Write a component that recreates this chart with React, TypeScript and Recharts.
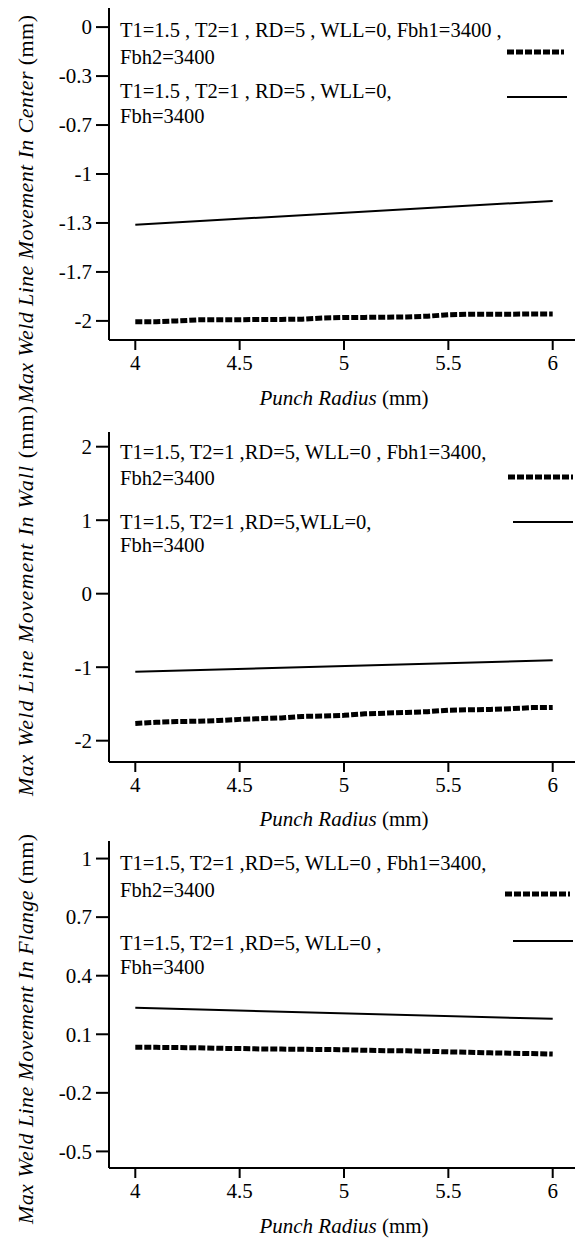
import React from 'react';
import { LineChart, Line, XAxis, YAxis, Legend, Label } from 'recharts';

// punch radius (mm) sampled along the dotted series
const radius = [4, 4.1, 4.2, 4.3, 4.4, 4.5, 4.6, 4.7, 4.8, 4.9, 5, 5.1, 5.2, 5.3, 5.4, 5.5, 5.6, 5.7, 5.8, 5.9, 6];
const radiusEnds = [4, 6];

// center
const centerDual = [-2.005, -2.005, -2.0, -1.993, -1.992, -1.992, -1.99, -1.99, -1.988, -1.98, -1.977, -1.976, -1.975, -1.973, -1.968, -1.958, -1.955, -1.954, -1.954, -1.953, -1.953];
const centerSingle = [-1.345, -1.183];
// wall
const wallDual = [-1.765, -1.75, -1.74, -1.735, -1.725, -1.71, -1.7, -1.69, -1.67, -1.665, -1.655, -1.635, -1.625, -1.615, -1.605, -1.585, -1.58, -1.575, -1.565, -1.55, -1.548];
const wallSingle = [-1.063, -0.905];
// flange
const flangeDual = [0.033, 0.033, 0.032, 0.031, 0.028, 0.027, 0.025, 0.024, 0.023, 0.022, 0.021, 0.018, 0.016, 0.015, 0.013, 0.01, 0.008, 0.005, 0.003, 0.001, -0.001];
const flangeSingle = [0.236, 0.179];

const xTicks = [4, 4.5, 5, 5.5, 6];
const centerTicks = [0, -1 / 3, -2 / 3, -1, -4 / 3, -5 / 3, -2];
const wallTicks = [2, 1, 0, -1, -2];
const flangeTicks = [1, 0.7, 0.4, 0.1, -0.2, -0.5];

const centerLegend = ['T1=1.5 , T2=1 , RD=5 , WLL=0, Fbh1=3400 ,', 'Fbh2=3400', 'T1=1.5 , T2=1 , RD=5 , WLL=0,', 'Fbh=3400'];
const wallLegend = ['T1=1.5, T2=1 ,RD=5, WLL=0 , Fbh1=3400,', 'Fbh2=3400', 'T1=1.5, T2=1 ,RD=5,WLL=0,', 'Fbh=3400'];
const flangeLegend = ['T1=1.5, T2=1 ,RD=5, WLL=0 , Fbh1=3400,', 'Fbh2=3400', 'T1=1.5, T2=1 ,RD=5, WLL=0 ,', 'Fbh=3400'];

const FONT = "'Liberation Serif', serif";
const BLACK = '#000';
const dualStyle = { strokeWidth: 5, dash: '7 2' };
const singleStyle = { strokeWidth: 2, dash: undefined as string | undefined };

const toPoints = (xs: number[], ys: number[]) => xs.map((x, i) => ({ x, y: ys[i] }));

type Swatch = { y: number; x1: number; x2: number };

interface PanelProps {
  top: number;
  height: number;
  plotTop: number;
  plotBottom: number;
  yDomain: [number, number];
  yTicks: number[];
  dual: number[];
  single: number[];
  legend: string[];
  rows: number[];
  dualSwatch: Swatch;
  singleSwatch: Swatch;
  title: string;
  titleCy: number;
  titleLen: number;
  xTitleY: number;
}

function SerifTick(props: any) {
  const { x, y, payload, textAnchor, verticalAnchor, tickFormatter } = props;
  const label = tickFormatter ? tickFormatter(payload.value) : String(payload.value);
  const dy = verticalAnchor === 'start' ? '0.75em' : '0.35em';
  return (
    <text x={x} y={y} dy={dy} textAnchor={textAnchor} fill={BLACK} fontFamily={FONT} fontSize={21}>
      {label}
    </text>
  );
}

function Panel(p: PanelProps) {
  const xAxisHeight = p.height - (p.plotBottom - p.top);
  const fmt = (v: number) => String(Number(v.toFixed(1)));

  const renderLegend = () => (
    <div style={{ position: 'relative', width: 0, height: 0 }}>
      {p.legend.map((t, i) => (
        <div key={i} style={{ position: 'absolute', left: 120, top: p.rows[i] - p.top - 12, fontFamily: FONT, fontSize: 20.5, lineHeight: '24px', whiteSpace: 'nowrap', color: BLACK }}>{t}</div>
      ))}
      {[{ s: p.dualSwatch, st: dualStyle }, { s: p.singleSwatch, st: singleStyle }].map(({ s, st }, i) => (
        <svg key={'sw' + i} width={s.x2 - s.x1} height={8} style={{ position: 'absolute', left: s.x1, top: s.y - p.top - 4 }}>
          <line x1={0} y1={4} x2={s.x2 - s.x1} y2={4} stroke={BLACK} strokeWidth={st.strokeWidth} strokeDasharray={st.dash} />
        </svg>
      ))}
    </div>
  );

  return (
    <div style={{ position: 'absolute', left: 0, top: p.top }}>
      <LineChart width={590} height={p.height} margin={{ top: p.plotTop - p.top, right: 11, bottom: 0, left: 0 }}>
        <XAxis
          type="number"
          dataKey="x"
          domain={[3.874, 6.126]}
          ticks={xTicks}
          allowDataOverflow
          height={xAxisHeight}
          tickSize={10}
          tickMargin={4}
          axisLine={{ stroke: BLACK, strokeWidth: 2 }}
          tickLine={{ stroke: BLACK, strokeWidth: 2 }}
          tick={<SerifTick />}
          label={
            <Label
              content={(props: any) => {
                const vb = props.viewBox;
                return (
                  <text x={vb.x + vb.width / 2} y={p.xTitleY - p.top} textAnchor="middle" dominantBaseline="central" fontFamily={FONT} fontSize={21} fill={BLACK}>
                    <tspan fontStyle="italic">Punch Radius</tspan>
                    <tspan> (mm)</tspan>
                  </text>
                );
              }}
            />
          }
        />
        <XAxis xAxisId="top" orientation="top" type="number" domain={[3.874, 6.126]} height={0} tick={false} tickLine={false} axisLine={{ stroke: BLACK, strokeWidth: 2 }} />
        <YAxis
          type="number"
          domain={p.yDomain}
          ticks={p.yTicks}
          interval={0}
          allowDataOverflow
          width={109}
          tickSize={13}
          tickMargin={4}
          tickFormatter={fmt}
          axisLine={{ stroke: BLACK, strokeWidth: 2 }}
          tickLine={{ stroke: BLACK, strokeWidth: 2 }}
          tick={<SerifTick />}
          label={
            <Label
              content={() => (
                <text
                  transform={`translate(25, ${p.titleCy - p.top}) rotate(-90)`}
                  textAnchor="middle"
                  dominantBaseline="central"
                  fontFamily={FONT}
                  fontSize={22}
                  fill={BLACK}
                  textLength={p.titleLen}
                  lengthAdjust="spacing"
                >
                  <tspan fontStyle="italic">{p.title}</tspan>
                  <tspan> (mm)</tspan>
                </text>
              )}
            />
          }
        />
        <Legend content={renderLegend} wrapperStyle={{ left: 0, top: 0, width: 0, height: 0 }} />
        <Line data={toPoints(radius, p.dual)} dataKey="y" name={p.legend[0]} stroke={BLACK} strokeWidth={dualStyle.strokeWidth} strokeDasharray={dualStyle.dash} dot={false} isAnimationActive={false} />
        <Line data={toPoints(radiusEnds, p.single)} dataKey="y" name={p.legend[2]} stroke={BLACK} strokeWidth={singleStyle.strokeWidth} dot={false} isAnimationActive={false} />
      </LineChart>
    </div>
  );
}

export default function App() {
  return (
    <div style={{ position: 'absolute', left: 0, top: 0, width: 575, height: 1241, overflow: 'hidden', background: '#fff' }}>
      <Panel
        top={0} height={430} plotTop={8} plotBottom={340}
        yDomain={[-2.13, 0.13]} yTicks={centerTicks}
        dual={centerDual} single={centerSingle} legend={centerLegend}
        rows={[30, 57, 91, 116]}
        dualSwatch={{ y: 52, x1: 507, x2: 564 }} singleSwatch={{ y: 97, x1: 507, x2: 567 }}
        title="Max Weld Line Movement In Center" titleCy={209} titleLen={388} xTitleY={398}
      />
      <Panel
        top={400} height={440} plotTop={432} plotBottom={762}
        yDomain={[-2.29, 2.2]} yTicks={wallTicks}
        dual={wallDual} single={wallSingle} legend={wallLegend}
        rows={[452, 478, 522, 545]}
        dualSwatch={{ y: 477, x1: 508, x2: 573 }} singleSwatch={{ y: 522, x1: 513, x2: 573 }}
        title="Max Weld Line Movement In Wall" titleCy={601} titleLen={390} xTitleY={819}
      />
      <Panel
        top={830} height={411} plotTop={841} plotBottom={1168}
        yDomain={[-0.585, 1.09]} yTicks={flangeTicks}
        dual={flangeDual} single={flangeSingle} legend={flangeLegend}
        rows={[863, 890, 943, 967]}
        dualSwatch={{ y: 894, x1: 505, x2: 570 }} singleSwatch={{ y: 941, x1: 513, x2: 573 }}
        title="Max Weld Line Movement In Flange" titleCy={1029} titleLen={390} xTitleY={1226}
      />
    </div>
  );
}
